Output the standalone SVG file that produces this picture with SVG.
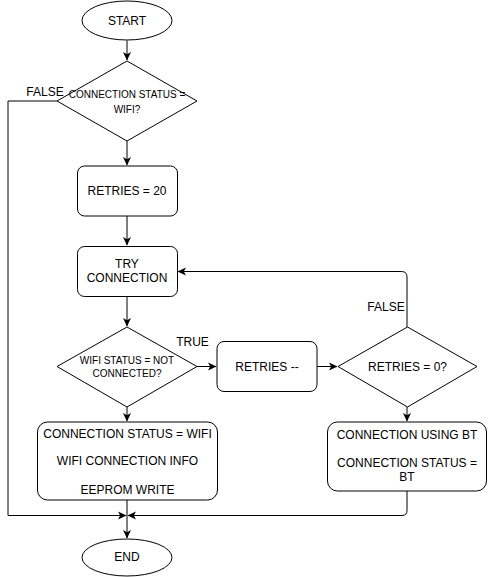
<svg xmlns="http://www.w3.org/2000/svg" width="488" height="577" viewBox="0 0 488 577">
<style>
.s{fill:#fff;stroke:#000;stroke-width:1}
.t{font-family:"Liberation Sans",Arial,sans-serif;font-size:12px;fill:#000;text-anchor:middle}
.sm{font-size:10px}
.c{fill:none;stroke:#000;stroke-width:1}
</style>
<defs>
<marker id="a" markerUnits="userSpaceOnUse" markerWidth="9" markerHeight="9" viewBox="0 0 9 9" refX="8" refY="4.5" orient="auto">
<path d="M0,0.5 L8.5,4.5 L0,8.5 L2.2,4.5 Z" fill="#000"/>
</marker>
</defs>
<rect width="488" height="577" fill="#fff"/>
<g id="connectors">
<path class="c" d="M127,40.5 V60" marker-end="url(#a)"/>
<path class="c" d="M127,141 V165" marker-end="url(#a)"/>
<path class="c" d="M127,216 V245" marker-end="url(#a)"/>
<path class="c" d="M127,296 V326" marker-end="url(#a)"/>
<path class="c" d="M197,366.5 H216" marker-end="url(#a)"/>
<path class="c" d="M317,366.5 H337" marker-end="url(#a)"/>
<path class="c" d="M407,327 V277 Q407,271.5 401.5,271.5 H178" marker-end="url(#a)"/>
<path class="c" d="M127,407 V421" marker-end="url(#a)"/>
<path class="c" d="M407,407 V421" marker-end="url(#a)"/>
<path class="c" d="M57,101 H8 V515.5 H126" marker-end="url(#a)"/>
<path class="c" d="M407,491 V510.5 Q407,515.5 402,515.5 H128" marker-end="url(#a)"/>
<path class="c" d="M127,500 V538" marker-end="url(#a)"/>
<text class="t" x="45" y="96">FALSE</text>
<text class="t" x="192.5" y="346">TRUE</text>
<text class="t" x="386" y="311">FALSE</text>
</g>
<g id="start">
<ellipse class="s" cx="127" cy="20.5" rx="45" ry="19.5"/>
<text class="t" x="127" y="25">START</text>
</g>
<g id="dec-wifi">
<polygon class="s" points="127,61 197,101 127,141 57,101"/>
<text class="t sm" x="127" y="98">CONNECTION STATUS =</text>
<text class="t sm" x="127" y="112.5">WIFI?</text>
</g>
<g id="retries20">
<rect class="s" x="77.5" y="166" width="100" height="50" rx="7"/>
<text class="t" x="127" y="195">RETRIES = 20</text>
</g>
<g id="try">
<rect class="s" x="77.5" y="246.5" width="100" height="50" rx="7"/>
<text class="t" x="127" y="267.5">TRY</text>
<text class="t" x="127" y="281.5">CONNECTION</text>
</g>
<g id="dec-status">
<polygon class="s" points="127,327 197,366.5 127,407 57,366.5"/>
<text class="t sm" x="127" y="363.5">WIFI STATUS = NOT</text>
<text class="t sm" x="127" y="377">CONNECTED?</text>
</g>
<g id="retries-dec">
<rect class="s" x="217" y="341.5" width="100" height="50" rx="7"/>
<text class="t" x="267" y="370.5">RETRIES --</text>
</g>
<g id="dec-zero">
<polygon class="s" points="407.5,327 477,366.5 407.5,407 338,366.5"/>
<text class="t" x="407.5" y="370.5">RETRIES = 0?</text>
</g>
<g id="wifi-ok">
<rect class="s" x="37.5" y="422" width="180" height="78" rx="10"/>
<text class="t" x="127.5" y="437.5">CONNECTION STATUS = WIFI</text>
<text class="t" x="127.5" y="465">WIFI CONNECTION INFO</text>
<text class="t" x="127.5" y="493.5">EEPROM WRITE</text>
</g>
<g id="bt">
<rect class="s" x="327.5" y="422" width="159" height="69" rx="10"/>
<text class="t" x="407" y="439">CONNECTION USING BT</text>
<text class="t" x="407" y="467">CONNECTION STATUS =</text>
<text class="t" x="407" y="481">BT</text>
</g>
<g id="end">
<ellipse class="s" cx="127" cy="557.5" rx="45" ry="18.5"/>
<text class="t" x="127" y="561">END</text>
</g>
</svg>
